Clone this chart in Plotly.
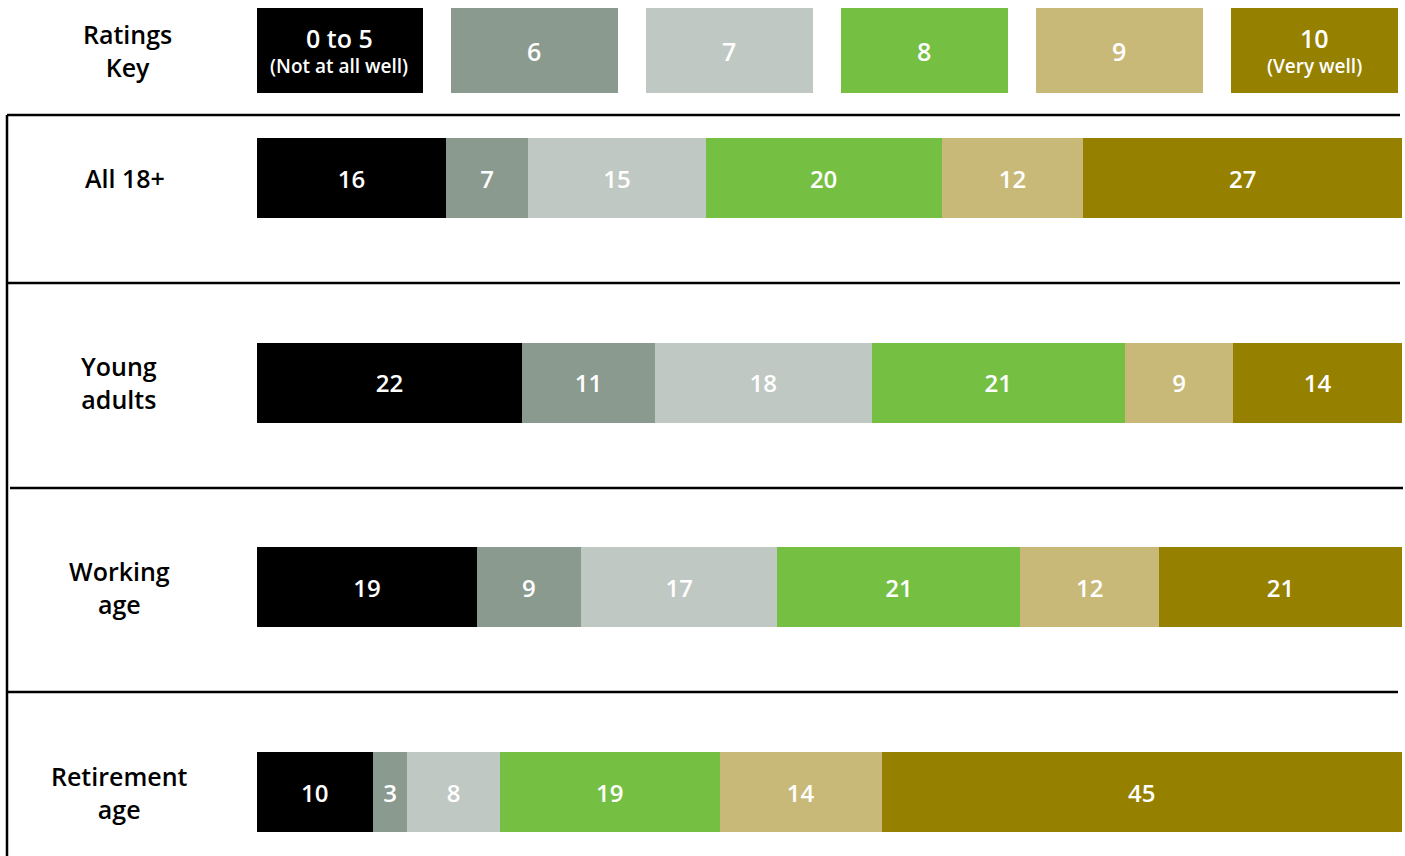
import plotly.graph_objects as go

W, H = 1405, 856

groups = ["All 18+", "Young<br>adults", "Working<br>age", "Retirement<br>age"]
rating_names = ["0 to 5", "6", "7", "8", "9", "10"]
key_sub = ["(Not at all well)", "", "", "", "", "(Very well)"]
colors = ["#000000", "#8B9A8F", "#BFC8C2", "#75C043", "#C9B978", "#958000"]

# values per rating, ordered by group
v_0to5 = [16, 22, 19, 10]
v_6 = [7, 11, 9, 3]
v_7 = [15, 18, 17, 8]
v_8 = [20, 21, 21, 19]
v_9 = [12, 9, 12, 14]
v_10 = [27, 14, 21, 45]
series = [v_0to5, v_6, v_7, v_8, v_9, v_10]

FONT = "Open Sans"
WEIGHT = 600
fig = go.Figure()

ypos = list(range(len(groups)))
for name, vals, col in zip(rating_names, series, colors):
    fig.add_trace(go.Bar(
        orientation="h", x=vals, y=ypos, name=name,
        marker=dict(color=col, line=dict(width=0)),
        width=0.391,
        text=[str(v) for v in vals], textposition="inside",
        insidetextanchor="middle", textangle=0,
        textfont=dict(color="white", size=24, family=FONT, weight=WEIGHT),
        xaxis="x", yaxis="y", hoverinfo="skip", showlegend=False,
    ))

# key boxes (one full-height box per rating)
kx = list(range(len(rating_names)))
fig.add_trace(go.Bar(
    x=kx, y=[100] * len(rating_names),
    width=167 / 195,
    marker=dict(color=colors, line=dict(width=0)),
    xaxis="x2", yaxis="y2", hoverinfo="skip", showlegend=False,
))

xdom = [257 / W, 1402 / W]
fig.update_layout(
    width=W, height=H, margin=dict(l=0, r=0, t=0, b=0),
    paper_bgcolor="white", plot_bgcolor="white",
    barmode="stack", barnorm="percent",
    xaxis=dict(domain=xdom, range=[0, 100], visible=False, fixedrange=True),
    yaxis=dict(domain=[0, 1 - 115 / H], range=[3.312, -0.308], visible=False),
    xaxis2=dict(domain=xdom, range=[-0.423, 5.449], visible=False, anchor="y2"),
    yaxis2=dict(domain=[1 - 93 / H, 1 - 8 / H], range=[0, 100], visible=False, anchor="x2"),
)

annotations = [dict(
    text="Ratings<br>Key", x=127 / W, y=50, xref="paper", yref="y2",
    showarrow=False, xanchor="center", yanchor="middle",
    font=dict(size=25, color="black", family=FONT, weight=WEIGHT),
)]
for i, (nm, sub) in enumerate(zip(rating_names, key_sub)):
    if sub:
        annotations.append(dict(
            text=nm, x=i, y=65, xref="x2", yref="y2", showarrow=False,
            xanchor="center", yanchor="middle",
            font=dict(size=25, color="white", family=FONT, weight=WEIGHT)))
        annotations.append(dict(
            text=sub, x=i, y=32, xref="x2", yref="y2", showarrow=False,
            xanchor="center", yanchor="middle",
            font=dict(size=19, color="white", family=FONT, weight=WEIGHT)))
    else:
        annotations.append(dict(
            text=nm, x=i, y=50, xref="x2", yref="y2", showarrow=False,
            xanchor="center", yanchor="middle",
            font=dict(size=25, color="white", family=FONT, weight=WEIGHT)))

label_x = [125, 119, 119, 119]
for i, g in enumerate(groups):
    annotations.append(dict(
        text=g, x=label_x[i] / W, y=i, xref="paper", yref="y",
        showarrow=False, xanchor="center", yanchor="middle",
        font=dict(size=25, color="black", family=FONT, weight=WEIGHT),
    ))
fig.update_layout(annotations=annotations)

def py(p):
    return 1 - p / H

lines = [(7, 1400, 115), (7, 1400, 283), (10, 1403, 488), (7, 1398, 692)]
shapes = []
for x0, x1, yy in lines:
    shapes.append(dict(type="line", xref="paper", yref="paper",
                       x0=x0 / W, x1=x1 / W, y0=py(yy), y1=py(yy),
                       line=dict(color="black", width=2.5)))
shapes.append(dict(type="line", xref="paper", yref="paper",
                   x0=7 / W, x1=7 / W, y0=py(115), y1=0,
                   line=dict(color="black", width=2.5)))
fig.update_layout(shapes=shapes)

fig.write_html("out.html")
